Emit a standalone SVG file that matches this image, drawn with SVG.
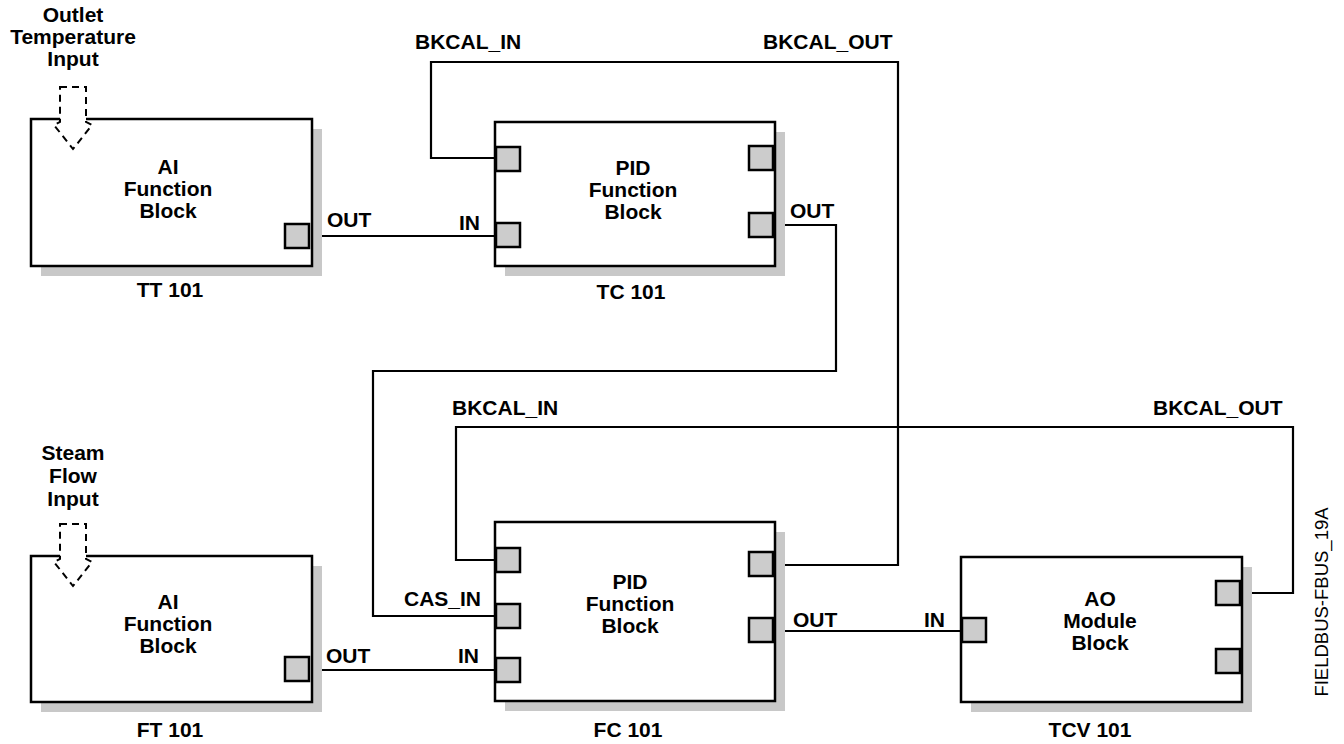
<svg xmlns="http://www.w3.org/2000/svg" width="1344" height="744" viewBox="0 0 1344 744">
<style>
.shadow{fill:#c8c8c8;stroke:none}
.box{fill:#fff;stroke:#000;stroke-width:2.5}
.port{fill:#cccccc;stroke:#000;stroke-width:2.5}
.wire{fill:none;stroke:#000;stroke-width:2.2}
.arrow{fill:#fff;stroke:#000;stroke-width:2;stroke-dasharray:7,5}
text{font-family:"Liberation Sans",Arial,sans-serif;font-weight:bold;font-size:21px;fill:#000}
.c{text-anchor:middle}
.e{text-anchor:end}
.note{font-weight:normal;font-size:18.5px}
</style>
<rect width="1344" height="744" fill="#fff"/>

<g id="connectors">
  <polyline class="wire" points="309,236 496,236"/>
  <polyline class="wire" points="773,565 898,565 898,62 431,62 431,158 496,158"/>
  <polyline class="wire" points="773,225 836,225 836,371 373,371 373,616 496,616"/>
  <polyline class="wire" points="1240,593 1293,593 1293,427 456,427 456,560 496,560"/>
  <polyline class="wire" points="309,670 496,670"/>
  <polyline class="wire" points="773,631 962,631"/>
  <text x="327" y="227">OUT</text>
  <text class="e" x="480" y="230">IN</text>
  <text x="790" y="218">OUT</text>
  <text x="415" y="49">BKCAL_IN</text>
  <text x="763" y="49">BKCAL_OUT</text>
  <text x="452" y="415">BKCAL_IN</text>
  <text x="1153" y="415">BKCAL_OUT</text>
  <text class="e" x="481" y="606">CAS_IN</text>
  <text class="e" x="479" y="663">IN</text>
  <text x="326" y="663">OUT</text>
  <text x="793" y="627">OUT</text>
  <text class="e" x="945" y="627">IN</text>
</g>

<g id="tt101">
  <rect class="shadow" x="41" y="129" width="281" height="147"/>
  <rect class="box" x="31" y="119" width="281" height="147"/>
  <rect class="port" x="285" y="224" width="24" height="24"/>
  <polygon class="arrow" points="60,87 86,87 86,122 92,125 73,149 54,125 60,122"/>
  <text class="c" x="73" y="22">Outlet</text>
  <text class="c" x="73" y="44">Temperature</text>
  <text class="c" x="73" y="66">Input</text>
  <text class="c" x="168" y="174">AI</text>
  <text class="c" x="168" y="196">Function</text>
  <text class="c" x="168" y="218">Block</text>
  <text class="c" x="170" y="297">TT 101</text>
</g>

<g id="tc101">
  <rect class="shadow" x="505" y="132" width="280" height="144"/>
  <rect class="box" x="495" y="122" width="280" height="144"/>
  <rect class="port" x="496" y="147" width="24" height="24"/>
  <rect class="port" x="496" y="223" width="24" height="24"/>
  <rect class="port" x="749" y="146" width="24" height="24"/>
  <rect class="port" x="749" y="213" width="24" height="24"/>
  <text class="c" x="633" y="175">PID</text>
  <text class="c" x="633" y="197">Function</text>
  <text class="c" x="633" y="219">Block</text>
  <text class="c" x="631" y="299">TC 101</text>
</g>

<g id="ft101">
  <rect class="shadow" x="41" y="566" width="281" height="146"/>
  <rect class="box" x="31" y="556" width="281" height="146"/>
  <rect class="port" x="285" y="657" width="24" height="24"/>
  <polygon class="arrow" points="60,524 86,524 86,559 92,562 73,586 54,562 60,559"/>
  <text class="c" x="73" y="460">Steam</text>
  <text class="c" x="73" y="483">Flow</text>
  <text class="c" x="73" y="506">Input</text>
  <text class="c" x="168" y="609">AI</text>
  <text class="c" x="168" y="631">Function</text>
  <text class="c" x="168" y="653">Block</text>
  <text class="c" x="170" y="737">FT 101</text>
</g>

<g id="fc101">
  <rect class="shadow" x="505" y="532" width="280" height="179"/>
  <rect class="box" x="495" y="522" width="280" height="179"/>
  <rect class="port" x="496" y="548" width="24" height="24"/>
  <rect class="port" x="496" y="604" width="24" height="24"/>
  <rect class="port" x="496" y="658" width="24" height="24"/>
  <rect class="port" x="749" y="552" width="24" height="24"/>
  <rect class="port" x="749" y="618" width="24" height="24"/>
  <text class="c" x="630" y="589">PID</text>
  <text class="c" x="630" y="611">Function</text>
  <text class="c" x="630" y="633">Block</text>
  <text class="c" x="628" y="737">FC 101</text>
</g>

<g id="tcv101">
  <rect class="shadow" x="971" y="567" width="281" height="145"/>
  <rect class="box" x="961" y="557" width="281" height="145"/>
  <rect class="port" x="962" y="618" width="24" height="24"/>
  <rect class="port" x="1216" y="581" width="24" height="24"/>
  <rect class="port" x="1216" y="649" width="24" height="24"/>
  <text class="c" x="1100" y="606">AO</text>
  <text class="c" x="1100" y="628">Module</text>
  <text class="c" x="1100" y="650">Block</text>
  <text class="c" x="1090" y="737">TCV 101</text>
</g>

<text class="note c" transform="translate(1328,602) rotate(-90)">FIELDBUS-FBUS_19A</text>
</svg>
